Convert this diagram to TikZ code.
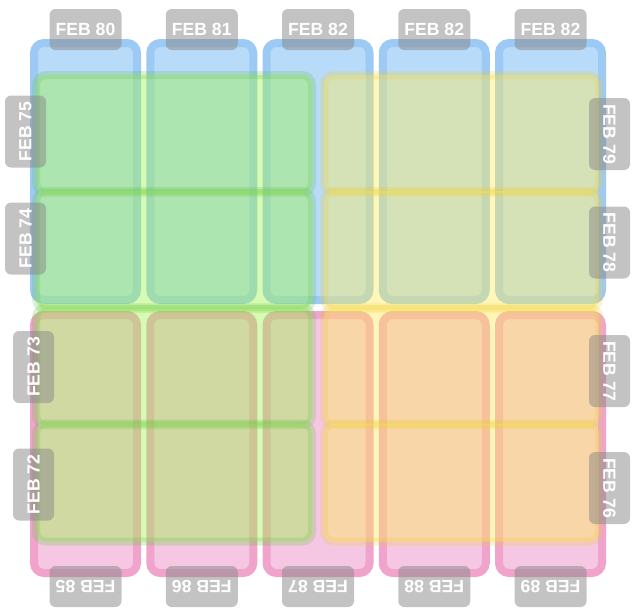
\documentclass[tikz,border=0pt]{standalone}
\usepackage{fontspec}
\setmainfont{Liberation Sans}
\definecolor{blueFill}{RGB}{183,219,249}
\definecolor{blueLine}{RGB}{157,202,245}
\definecolor{pinkFill}{RGB}{246,199,226}
\definecolor{pinkLine}{RGB}{240,163,203}
\definecolor{greenFill}{RGB}{160,243,77}
\definecolor{greenLine}{RGB}{100,195,70}
\definecolor{yellowFill}{RGB}{255,235,90}
\definecolor{yellowLine}{RGB}{235,205,60}
\definecolor{tagGray}{RGB}{136,136,136}
\tikzset{
  colbox/.style={rectangle, rounded corners=10pt, line width=8pt, inner sep=0pt,
    minimum width=103pt},
  bluecol/.style={colbox, fill=blueFill, draw=blueLine, minimum height=257pt},
  pinkcol/.style={colbox, fill=pinkFill, draw=pinkLine, minimum height=258pt},
  rowbox/.style={rectangle, rounded corners=10pt, line width=8pt, inner sep=0pt,
    minimum height=118pt},
  greenrow/.style={rowbox, fill=greenFill, fill opacity=0.42, draw=greenLine,
    draw opacity=0.24, minimum width=276pt},
  yellowrow/.style={rowbox, fill=yellowFill, fill opacity=0.42, draw=yellowLine,
    draw opacity=0.24, minimum width=275pt},
  tag/.style={rectangle, rounded corners=6pt, fill=tagGray, fill opacity=0.5,
    text opacity=1, text=white, inner sep=0pt, minimum width=72pt,
    minimum height=41pt, font=\fontsize{17.6}{20}\selectfont\bfseries}
}
\begin{document}
\begin{tikzpicture}[x=1pt,y=-1pt]
\useasboundingbox (0,0) rectangle (634,608);
% blue and pink columns
\foreach \i/\x in {1/85.5,2/201.75,3/318,4/434.25,5/550.5}{
  \node[bluecol] (b\i) at (\x,171.5) {};
  \node[pinkcol] (p\i) at (\x,444) {};
}
% rows
\foreach \i/\y in {1/134,2/250.2,3/366.4,4/482.6}{
  \node[greenrow] (g\i) at (174,\y) {};
  \node[yellowrow] (y\i) at (461.5,\y) {};
}
% top tags
\node[tag] (t1) at (85.5,29.5) {FEB 80};
\node[tag] (t2) at (201.75,29.5) {FEB 81};
\node[tag] (t3) at (318,29.5) {FEB 82};
\node[tag] (t4) at (434.25,29.5) {FEB 82};
\node[tag] (t5) at (550.5,29.5) {FEB 82};
% bottom tags
\node[tag,rotate=180] (d1) at (85.5,586.5) {FEB 85};
\node[tag,rotate=180] (d2) at (201.75,586.5) {FEB 86};
\node[tag,rotate=180] (d3) at (318,586.5) {FEB 87};
\node[tag,rotate=180] (d4) at (434.25,586.5) {FEB 88};
\node[tag,rotate=180] (d5) at (550.5,586.5) {FEB 89};
% left tags
\node[tag,rotate=90] (l1) at (25.5,131.5) {FEB 75};
\node[tag,rotate=90] (l2) at (25.5,238.5) {FEB 74};
\node[tag,rotate=90] (l3) at (33.5,367) {FEB 73};
\node[tag,rotate=90] (l4) at (33.5,484.5) {FEB 72};
% right tags
\node[tag,rotate=-90] (r1) at (609.5,134) {FEB 79};
\node[tag,rotate=-90] (r2) at (609.5,242.5) {FEB 78};
\node[tag,rotate=-90] (r3) at (609.5,371) {FEB 77};
\node[tag,rotate=-90] (r4) at (609.5,488) {FEB 76};
\end{tikzpicture}
\end{document}
